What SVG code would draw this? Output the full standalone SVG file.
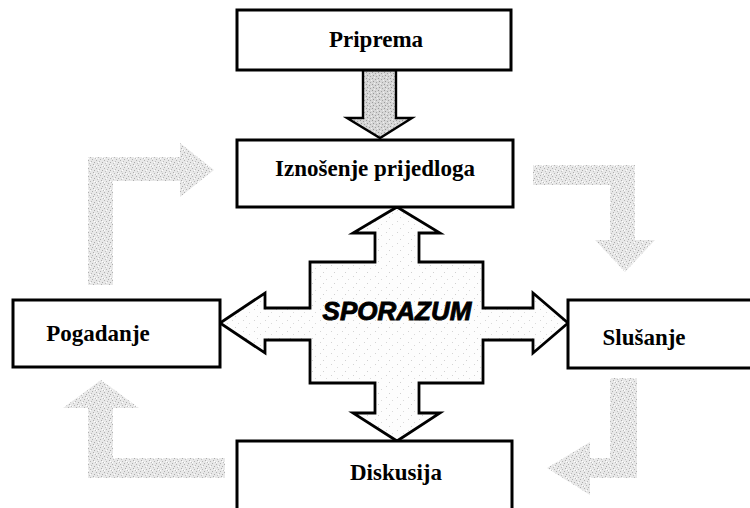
<svg xmlns="http://www.w3.org/2000/svg" width="750" height="508" viewBox="0 0 750 508">
<style>
.box{fill:#fff;stroke:#000;stroke-width:3}
.lbl{font-family:"Liberation Serif","Times New Roman",serif;font-weight:bold;font-size:23px;fill:#000;text-anchor:middle}
.grey{fill:url(#stipGrey);stroke:none}
.cross{fill:url(#stipLight);stroke:#000;stroke-width:2.8;stroke-linejoin:miter}
.down{fill:url(#stipDense);stroke:#000;stroke-width:2.4}
.sp{font-family:"Liberation Sans",Arial,sans-serif;font-weight:bold;font-style:italic;font-size:26px;fill:#000;stroke:#000;stroke-width:0.9;text-anchor:middle}
</style>
<defs>
<pattern id="stipGrey" width="8" height="8" patternUnits="userSpaceOnUse">
<rect width="8" height="8" fill="#e8e8e8"/>
<rect x="0" y="0" width="1" height="1" fill="#b0b0b0"/>
<rect x="3" y="1" width="1" height="1" fill="#bababa"/>
<rect x="6" y="2" width="1" height="1" fill="#aaaaaa"/>
<rect x="1" y="3" width="1" height="1" fill="#c0c0c0"/>
<rect x="5" y="4" width="1" height="1" fill="#adadad"/>
<rect x="2" y="5" width="1" height="1" fill="#b6b6b6"/>
<rect x="7" y="6" width="1" height="1" fill="#bcbcbc"/>
<rect x="4" y="7" width="1" height="1" fill="#b0b0b0"/>
<rect x="6" y="5" width="1" height="1" fill="#fff"/>
<rect x="2" y="2" width="1" height="1" fill="#fff"/>
<rect x="0" y="6" width="1" height="1" fill="#fff"/>
</pattern>
<pattern id="stipLight" width="11" height="11" patternUnits="userSpaceOnUse">
<rect width="11" height="11" fill="#fdfdfd"/>
<rect x="1" y="1" width="1" height="1" fill="#d4d4d4"/>
<rect x="7" y="4" width="1" height="1" fill="#dadada"/>
<rect x="4" y="8" width="1" height="1" fill="#d0d0d0"/>
</pattern>
<pattern id="stipDense" width="6" height="6" patternUnits="userSpaceOnUse">
<rect width="6" height="6" fill="#d6d6d6"/>
<rect x="0" y="0" width="1" height="1" fill="#9a9a9a"/>
<rect x="3" y="1" width="1" height="1" fill="#a0a0a0"/>
<rect x="1" y="3" width="1" height="1" fill="#989898"/>
<rect x="4" y="4" width="1" height="1" fill="#a4a4a4"/>
<rect x="2" y="5" width="1" height="1" fill="#f0f0f0"/>
<rect x="5" y="2" width="1" height="1" fill="#f0f0f0"/>
</pattern>
</defs>

<g id="connectors">
  <polygon id="grey-top-left" class="grey" points="88,285 88,157 180,157 180,143 214,170 180,197 180,181 113,181 113,285"/>
  <polygon id="grey-top-right" class="grey" points="533,165 635,165 635,240 655,240 625,272 595,240 610,240 610,185 533,185"/>
  <polygon id="grey-bottom-right" class="grey" points="610,378 637,378 637,478 590,478 590,495 547,468 590,442 590,458 610,458"/>
  <polygon id="grey-bottom-left" class="grey" points="225,458 225,478 88,478 88,408 63,408 101,380 139,408 113,408 113,458"/>
  <polygon id="arrow-priprema" class="down" points="363,70 396,70 396,118 412,118 380,138 347,118 363,118"/>
</g>

<g id="sporazum">
  <polygon class="cross" points="397,207 440,233 419,233 419,262 483,262 483,308 533,308 533,293 568,323 533,353 533,340 483,340 483,383 419,383 419,413 440,413 397,441 353,413 375,413 375,383 310,383 310,340 265,340 265,353 220,323 265,293 265,308 310,308 310,262 375,262 375,233 353,233"/>
  <text class="sp" x="397" y="320">SPORAZUM</text>
</g>

<g id="priprema">
  <rect class="box" x="237" y="10" width="274" height="60"/>
  <text class="lbl" x="376" y="47">Priprema</text>
</g>

<g id="iznosenje">
  <rect class="box" x="237" y="140" width="276" height="67"/>
  <text class="lbl" x="375" y="176">Iznošenje prijedloga</text>
</g>

<g id="pogadanje">
  <rect class="box" x="13" y="300" width="207" height="67"/>
  <text class="lbl" x="98" y="341">Pogadanje</text>
</g>

<g id="slusanje">
  <rect class="box" x="568" y="300" width="186" height="68"/>
  <text class="lbl" x="644" y="345">Slušanje</text>
</g>

<g id="diskusija">
  <rect class="box" x="237" y="441" width="275" height="72"/>
  <text class="lbl" x="396" y="480">Diskusija</text>
</g>
</svg>
